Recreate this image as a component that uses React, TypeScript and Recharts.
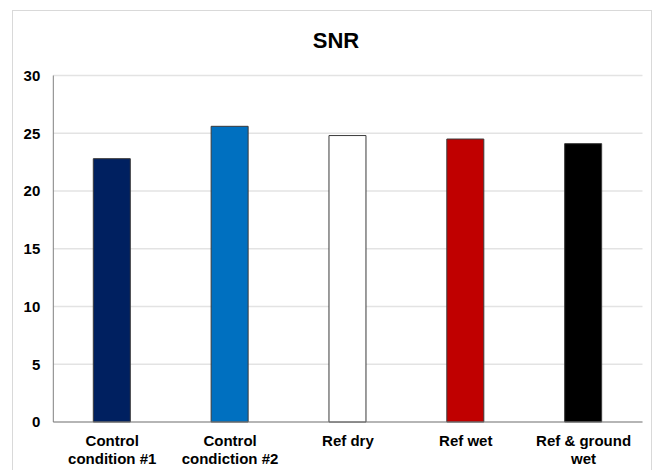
import { BarChart, Bar, XAxis, YAxis, CartesianGrid, Cell } from 'recharts'

// categories (\n marks the label line break) and SNR values
const categories = [
  'Control\ncondition #1',
  'Control\ncondiction #2',
  'Ref dry',
  'Ref wet',
  'Ref & ground\nwet',
]
const snrValues = [22.8, 25.6, 24.8, 24.5, 24.1]
const yTicks = [0, 5, 10, 15, 20, 25, 30]

const barColors = ['#002060', '#0070C0', '#FFFFFF', '#C00000', '#000000']

const data = categories.map((name, i) => ({ name, snr: snrValues[i] }))

const font = "'Liberation Sans', Arial, sans-serif"

function CategoryTick(props: any) {
  const { x, payload } = props
  const lines = String(payload.value).split('\n')
  return (
    <text
      x={x}
      y={422}
      textAnchor="middle"
      fill="#000"
      fontFamily={font}
      fontWeight="bold"
      fontSize={15}
    >
      {lines.map((line, i) => (
        <tspan key={i} x={x} dy={i === 0 ? 24 : 17.6}>
          {line}
        </tspan>
      ))}
    </text>
  )
}

export default function App() {
  return (
    <div
      style={{
        position: 'absolute',
        left: 0,
        top: 0,
        width: 661,
        height: 470,
        background: '#fff',
        overflow: 'hidden',
      }}
    >
      <div
        style={{
          position: 'absolute',
          left: 12,
          top: 10,
          width: 640,
          height: 470,
          border: '1px solid #d9d9d9',
          boxSizing: 'border-box',
        }}
      />
      <div
        style={{
          position: 'absolute',
          left: 0,
          top: 28,
          width: 672,
          textAlign: 'center',
          fontFamily: font,
          fontWeight: 'bold',
          fontSize: 22,
          color: '#000',
          lineHeight: '26px',
        }}
      >
        SNR
      </div>
      <div style={{ position: 'absolute', left: 0, top: 0 }}>
        <BarChart
          width={661}
          height={470}
          data={data}
          margin={{ top: 75.5, right: 18.5, bottom: 0, left: 0 }}
          barSize={37}
        >
          <CartesianGrid vertical={false} stroke="#e3e3e3" strokeWidth={1.5} />
          <XAxis
            dataKey="name"
            axisLine={{ stroke: '#808080' }}
            tickLine={false}
            tick={<CategoryTick />}
            interval={0}
            height={48}
          />
          <YAxis
            domain={[0, 30]}
            ticks={yTicks}
            width={53.3}
            axisLine={{ stroke: '#808080' }}
            tickLine={false}
            tickSize={0}
            tickMargin={13}
            tick={{ fill: '#000', fontFamily: font, fontWeight: 'bold', fontSize: 15 }}
          />
          <Bar dataKey="snr" isAnimationActive={false} stroke="#3a3a3a" strokeWidth={1}>
            {data.map((d, i) => (
              <Cell key={d.name} fill={barColors[i]} />
            ))}
          </Bar>
        </BarChart>
      </div>
    </div>
  )
}
